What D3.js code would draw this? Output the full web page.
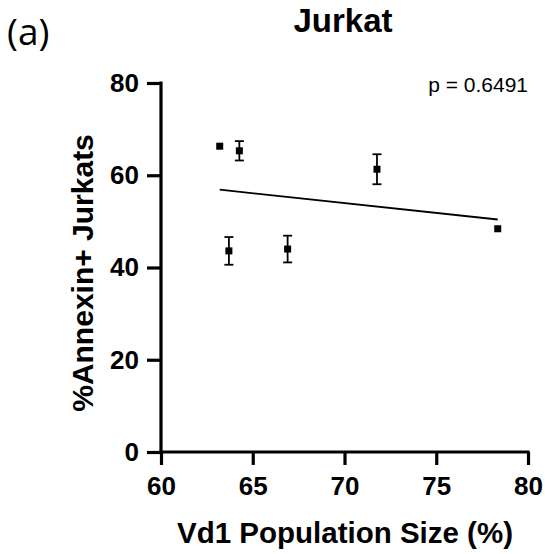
<!DOCTYPE html>
<html><head><meta charset="utf-8">
<script src="https://cdn.jsdelivr.net/npm/d3@7"></script>
<style>body{margin:0;background:#fff}svg{display:block}</style>
</head><body>
<svg id="c" width="545" height="554"></svg>
<script>
const xVals = [63.2, 64.27, 63.7, 66.9, 71.77, 78.35];
const yVals = [66.3, 65.3, 43.6, 44.0, 61.3, 48.4];
const yErr  = [0, 2.1, 3.0, 2.9, 3.25, 0];
const xTicks = [60, 65, 70, 75, 80];
const yTicks = [0, 20, 40, 60, 80];
const title = "Jurkat";
const panel = "(a)";
const pText = "p = 0.6491";
const xLabel = "Vd1 Population Size (%)";
const yLabel = "%Annexin+ Jurkats";

const svg = d3.select("#c");
const x = d3.scaleLinear().domain([60, 80]).range([161, 528]);
const y = d3.scaleLinear().domain([0, 80]).range([452, 83]);
const bold = "'Liberation Sans', Arial, sans-serif";

const xa = svg.append("g").attr("transform", `translate(0,${y(0)})`)
  .call(d3.axisBottom(x).tickValues(xTicks).tickSize(13).tickPadding(12).tickFormat(d3.format("d")));
const ya = svg.append("g").attr("transform", `translate(${x(60)},0)`)
  .call(d3.axisLeft(y).tickValues(yTicks).tickSize(14).tickPadding(8).tickFormat(d3.format("d")));
[xa, ya].forEach(a => {
  a.selectAll("path").attr("stroke", "#000").attr("stroke-width", 3.2).attr("stroke-linecap", "square");
  a.selectAll(".tick line").attr("stroke", "#000").attr("stroke-width", 3.2);
  a.selectAll("text").attr("font-family", bold).attr("font-weight", "bold").attr("font-size", 26).attr("fill", "#000");
});
xa.select(".domain").attr("d", `M${x(60)},0H${x(80)}`);
ya.select(".domain").attr("d", `M0,${y(80)}V${y(0)}`);

// regression line
const mx = d3.mean(xVals), my = d3.mean(yVals);
const slope = d3.sum(xVals, (v, i) => (v - mx) * (yVals[i] - my)) / d3.sum(xVals, v => (v - mx) * (v - mx));
const x0 = d3.min(xVals), x1 = d3.max(xVals);
svg.append("line")
  .attr("x1", x(x0)).attr("y1", y(my + slope * (x0 - mx)))
  .attr("x2", x(x1)).attr("y2", y(my + slope * (x1 - mx)))
  .attr("stroke", "#000").attr("stroke-width", 1.8);

// error bars
const data = xVals.map((v, i) => ({x: v, y: yVals[i], e: yErr[i]}));
const eb = svg.append("g").attr("stroke", "#000").attr("stroke-width", 1.8);
data.filter(d => d.e > 0).forEach(d => {
  eb.append("line").attr("x1", x(d.x)).attr("x2", x(d.x)).attr("y1", y(d.y - d.e)).attr("y2", y(d.y + d.e));
  [d.y - d.e, d.y + d.e].forEach(v => eb.append("line").attr("x1", x(d.x) - 4.5).attr("x2", x(d.x) + 4.5).attr("y1", y(v)).attr("y2", y(v)));
});
svg.append("g").selectAll("rect").data(data).join("rect")
  .attr("x", d => x(d.x) - 3.5).attr("y", d => y(d.y) - 3.5)
  .attr("width", 7).attr("height", 7).attr("fill", "#000");

svg.append("text").attr("x", 343).attr("y", 32).attr("text-anchor", "middle")
  .attr("font-family", bold).attr("font-weight", "bold").attr("font-size", 33).text(title);
svg.append("text").attr("x", 7).attr("y", 45)
  .attr("font-family", "'Open Sans', sans-serif").attr("font-size", 37).text(panel);
svg.append("text").attr("x", 528).attr("y", 92).attr("text-anchor", "end")
  .attr("font-family", bold).attr("font-size", 21).text(pText);
svg.append("text").attr("x", 345).attr("y", 543).attr("text-anchor", "middle")
  .attr("font-family", bold).attr("font-weight", "bold").attr("font-size", 29.5).text(xLabel);
svg.append("text").attr("transform", "translate(93,273) rotate(-90)").attr("text-anchor", "middle")
  .attr("font-family", bold).attr("font-weight", "bold").attr("font-size", 30).text(yLabel);
</script>
</body></html>
